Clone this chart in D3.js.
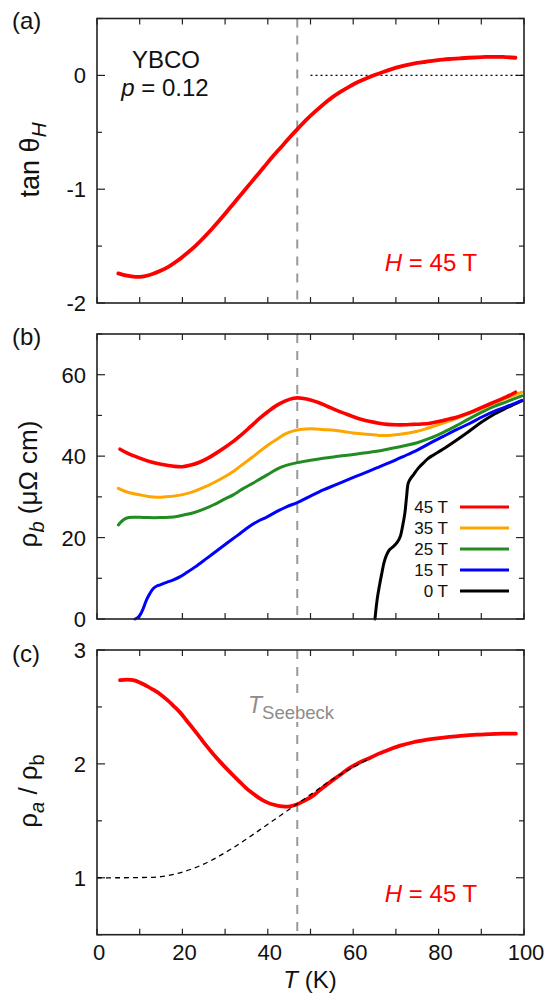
<!DOCTYPE html>
<html><head><meta charset="utf-8">
<script src="https://cdn.jsdelivr.net/npm/d3@7"></script>
<style>
body{margin:0;background:#fff}
svg{display:block}
text{font-family:"Liberation Sans",Arial,Helvetica,sans-serif;fill:#111}
</style>
</head><body>
<svg id="chart" width="548" height="994"></svg>
<script>
// ---------- data ----------
const xTickLabels = [0, 20, 40, 60, 80, 100];
const tSeebeck = 46.9;

// (a) tan theta_H at 45 T
const tempA = [5,7,9,11,13,15,17,19,21,23,25,27,29,31,33,35,37,39,41,43,45,47,49,51,53,55,57,59,61,63,65,67,69,71,73,75,77,79,81,83,85,87,89,91,93,95,98];
const tanThetaH = [-1.74,-1.76,-1.77,-1.765,-1.745,-1.715,-1.675,-1.625,-1.565,-1.50,-1.425,-1.345,-1.26,-1.17,-1.08,-0.99,-0.90,-0.81,-0.72,-0.635,-0.55,-0.47,-0.39,-0.32,-0.255,-0.195,-0.145,-0.1,-0.06,-0.027,0.003,0.03,0.055,0.077,0.095,0.11,0.12,0.13,0.139,0.145,0.15,0.155,0.159,0.162,0.163,0.162,0.155];
const tickA = [-2, -1, 0];

// (b) rho_b for several fields
const fieldLabels = ["45 T", "35 T", "25 T", "15 T", "0 T"];
const fieldColors = ["#ff0000", "#ffa500", "#228b22", "#0000ff", "#000000"];
const temp45 = [5.4,7,10,12.5,15,18,20,22,24,26,28,30,32,34,36,38,40,42,44,46,47,48,50,52,54,56,58,60,62,64,66,68,70,72,74,76,78,80,82,84,86,88,90,92,94,96,98];
const rho45 = [41.7,40.8,39.5,38.6,38.0,37.5,37.4,37.8,38.5,39.5,40.8,42.2,43.7,45.4,47.3,49.2,50.9,52.4,53.5,54.2,54.3,54.2,53.8,53.1,52.2,51.3,50.5,49.7,49.0,48.5,48.1,47.8,47.7,47.7,47.8,47.9,48.1,48.5,49.0,49.5,50.2,51.0,51.9,52.8,53.7,54.6,55.7];
const temp35 = [5,7,10,12,14,16,18.7,21,22.6,25,27.2,30,32,34,36.6,38,40,42.5,44,46,48,50,52,54,56,58,60,62,64,66,68.6,71,73,75,77,79,81,83,85,87.4,90,92,94,96,98,99.5];
const rho35 = [32.1,31.2,30.5,30.1,29.9,30.0,30.3,30.8,31.3,32.3,33.4,35.0,36.3,37.9,39.9,41.1,42.7,44.4,45.4,46.2,46.6,46.7,46.6,46.5,46.3,46.0,45.7,45.5,45.3,45.1,45.1,45.4,45.7,46.1,46.7,47.4,48.1,48.8,49.6,50.6,51.7,52.6,53.5,54.3,55.1,55.7];
const temp25 = [5,6,7,8.5,10,12,14.8,17,18.7,20.5,22.6,25,27.2,30,31.9,34,36.6,38.5,40.5,42.5,44.5,46.9,50,53,56,59.2,62,65.5,68,71.7,75,78,81,84.2,87,90.5,93,96,99.5];
const rho25 = [23.1,24.2,24.8,25.0,25.0,24.9,24.9,25.0,25.2,25.6,26.1,27.0,28.0,29.5,30.5,31.9,33.4,34.6,35.8,37.0,37.8,38.4,39.0,39.5,39.9,40.3,40.7,41.2,41.7,42.5,43.3,44.4,45.8,47.5,49.1,51.0,52.2,53.4,54.8];
const temp15 = [8.9,9.6,10.1,10.8,11.6,12.4,13.2,14,14.8,16.3,17.9,19.5,21,23,25.7,28,30.4,33,35.1,37.5,39.7,42.5,44.5,46.9,50,53,56,59.2,62,65.5,68.5,71.7,75,78,81,84.2,87,90.5,93,96,99.5];
const rho15 = [0,0.4,1.0,2.5,4.7,6.3,7.5,8.1,8.4,9.0,9.6,10.4,11.4,12.8,14.9,16.7,18.6,20.6,22.3,23.9,25.0,26.6,27.6,28.6,30.2,31.7,33.0,34.4,35.6,37.1,38.4,39.9,41.5,43.2,44.8,46.5,47.9,49.8,51.0,52.2,53.7];
const temp0 = [65.1,65.6,66.2,66.7,67.2,67.8,68.5,69.4,70.3,71,71.6,72.1,72.5,72.9,73.5,74.1,75.2,76.4,77.5,78.8,81,84,87,90,93,96,99.5];
const rho0 = [0,4.7,8.5,11.2,13.8,15.7,17.0,17.8,18.8,20.2,23.0,26.0,30.0,33.4,34.6,35.4,37.0,38.3,39.4,40.3,41.7,43.8,46.0,48.3,50.3,51.9,53.6];
const tickB = [0, 20, 40, 60];

// (c) rho_a / rho_b at 45 T, and extrapolated background (dashed)
const tempC = [5.4,7,8.5,10,11.6,13,14.8,16.5,17.9,19.5,21,22.5,24.1,25.6,27.2,28.8,30.4,32,33.5,35,36.6,38.2,39.7,41,42.5,44,45.5,46.9,48.5,50.7,52.5,54.6,57,59.2,61.5,63.9,66,68.6,71,74.1,77,79.6,82.5,85.8,89,92,95,98.1];
const ratioAB = [2.735,2.74,2.735,2.715,2.685,2.655,2.612,2.56,2.51,2.45,2.379,2.31,2.233,2.16,2.087,2.02,1.956,1.895,1.84,1.785,1.737,1.695,1.664,1.645,1.632,1.625,1.63,1.645,1.675,1.723,1.78,1.84,1.905,1.965,2.012,2.052,2.09,2.128,2.16,2.19,2.21,2.224,2.237,2.248,2.256,2.262,2.265,2.265];
const tempFit = [0,5,10,15,20,25,30,35,40,45,50,55,60,64];
const ratioFit = [1.0,1.0,1.002,1.01,1.05,1.12,1.22,1.34,1.47,1.60,1.73,1.86,1.97,2.05];
const tickC = [1, 2, 3];

// ---------- drawing ----------
const svg = d3.select("#chart");
const x = d3.scaleLinear().domain([0, 100]).range([97, 524]);

const panels = [
  {key:"a", y: d3.scaleLinear().domain([-2, 0.5]).range([303, 18.5]), ticks: tickA, minor: 0.5, label:"(a)", labelY: 29},
  {key:"b", y: d3.scaleLinear().domain([0, 70]).range([619, 334]), ticks: tickB, minor: 10, label:"(b)", labelY: 345},
  {key:"c", y: d3.scaleLinear().domain([0.5, 3]).range([934.7, 650]), ticks: tickC, minor: 0.5, label:"(c)", labelY: 662}
];

function frame(p) {
  const y = p.y;
  const [y0, y1] = y.domain();
  const top = y.range()[1], bot = y.range()[0];
  const g = svg.append("g");
  g.append("line").attr("x1", x(tSeebeck)).attr("x2", x(tSeebeck))
    .attr("y1", top).attr("y2", bot)
    .attr("stroke", "#999").attr("stroke-width", 2).attr("stroke-dasharray", "9,8");
  const xt = d3.range(0, 101, 10);
  g.selectAll(null).data(xt).enter().append("line")
    .attr("x1", d => x(d)).attr("x2", d => x(d)).attr("y1", bot).attr("y2", bot - 6)
    .attr("stroke", "#222").attr("stroke-width", 1.2);
  g.selectAll(null).data(xt).enter().append("line")
    .attr("x1", d => x(d)).attr("x2", d => x(d)).attr("y1", top).attr("y2", top + 6)
    .attr("stroke", "#222").attr("stroke-width", 1.2);
  const all = d3.range(y0, y1 + 1e-9, p.minor).map(v => +v.toFixed(4));
  const isMajor = v => p.ticks.some(t => Math.abs(t - v) < 1e-6);
  g.selectAll(null).data(all).enter().append("line")
    .attr("x1", 97).attr("x2", d => 97 + (isMajor(d) ? 8 : 5))
    .attr("y1", d => y(d)).attr("y2", d => y(d)).attr("stroke", "#222").attr("stroke-width", 1.2);
  g.selectAll(null).data(all).enter().append("line")
    .attr("x1", 524).attr("x2", d => 524 - (isMajor(d) ? 8 : 5))
    .attr("y1", d => y(d)).attr("y2", d => y(d)).attr("stroke", "#222").attr("stroke-width", 1.2);
  g.selectAll(null).data(p.ticks).enter().append("text")
    .attr("x", 86).attr("y", d => y(d) + 8).attr("text-anchor", "end")
    .attr("font-size", 22).text(d => d);
  svg.append("text").attr("x", 12).attr("y", p.labelY).attr("font-size", 24).text(p.label);
  return g;
}

function border(p) {
  const top = p.y.range()[1], bot = p.y.range()[0];
  svg.append("rect").attr("x", 97).attr("y", top).attr("width", 524 - 97).attr("height", bot - top)
    .attr("fill", "none").attr("stroke", "#222").attr("stroke-width", 1.6);
}

function curve(ts, vs, y, color, width, dash) {
  const pts = ts.map((t, i) => [t, vs[i]]);
  const line = d3.line().x(d => x(d[0])).y(d => y(d[1])).curve(d3.curveCatmullRom.alpha(0.5));
  const path = svg.append("path").datum(pts).attr("d", line)
    .attr("fill", "none").attr("stroke", color).attr("stroke-width", width)
    .attr("stroke-linejoin", "round").attr("stroke-linecap", "round");
  if (dash) path.attr("stroke-dasharray", dash).attr("stroke-linecap", "butt");
  return path;
}

function fieldText(xc, yb) {
  const t = svg.append("text").attr("x", xc).attr("y", yb).attr("text-anchor", "middle")
    .attr("font-size", 24).style("fill", "#ff0000");
  t.append("tspan").attr("font-style", "italic").text("H");
  t.append("tspan").text(" = 45 T");
}

// ---- panel (a)
const pa = panels[0];
frame(pa);
svg.append("line").attr("x1", x(50)).attr("x2", x(100)).attr("y1", pa.y(0)).attr("y2", pa.y(0))
  .attr("stroke", "#000").attr("stroke-width", 1.3).attr("stroke-dasharray", "2,3");
curve(tempA, tanThetaH, pa.y, "#ff0000", 3.8);
border(pa);
svg.append("text").attr("x", 166).attr("y", 68).attr("text-anchor", "middle").attr("font-size", 24).text("YBCO");
const pt = svg.append("text").attr("x", 165).attr("y", 96).attr("text-anchor", "middle").attr("font-size", 24);
pt.append("tspan").attr("font-style", "italic").text("p");
pt.append("tspan").text(" = 0.12");
fieldText(431, 271);
const ya = svg.append("text").attr("transform", "translate(39,160) rotate(-90)").attr("text-anchor", "middle").attr("font-size", 27);
ya.append("tspan").text("tan θ");
ya.append("tspan").attr("font-style", "italic").attr("font-size", 21).attr("dy", 7).text("H");

// ---- panel (b)
const pb = panels[1];
frame(pb);
const seriesB = [[temp0, rho0, 4], [temp15, rho15, 3], [temp25, rho25, 2], [temp35, rho35, 1], [temp45, rho45, 0]];
seriesB.forEach(s => curve(s[0], s[1], pb.y, fieldColors[s[2]], s[2] === 0 ? 3.6 : 3, undefined));
border(pb);
const lg = svg.append("g");
fieldLabels.forEach((lab, i) => {
  const cy = 507 + i * 21;
  lg.append("text").attr("x", 448).attr("y", cy + 6).attr("text-anchor", "end").attr("font-size", 17).text(lab);
  lg.append("line").attr("x1", 460).attr("x2", 509).attr("y1", cy).attr("y2", cy)
    .attr("stroke", fieldColors[i]).attr("stroke-width", 3);
});
const yb = svg.append("text").attr("transform", "translate(37,484) rotate(-90)").attr("text-anchor", "middle").attr("font-size", 26);
yb.append("tspan").text("ρ");
yb.append("tspan").attr("font-style", "italic").attr("font-size", 20).attr("dy", 7).text("b");
yb.append("tspan").attr("dy", -7).text(" (μΩ cm)");

// ---- panel (c)
const pc = panels[2];
frame(pc);
svg.append("rect").attr("x", 262).attr("y", 699).attr("width", 76).attr("height", 23).attr("fill", "#fff");
const ts = svg.append("text").attr("x", 248).attr("y", 713).attr("font-size", 23).style("fill", "#8c8c8c");
ts.append("tspan").attr("font-style", "italic").text("T");
ts.append("tspan").attr("font-size", 18.5).attr("dy", 6).text("Seebeck");
curve(tempC, ratioAB, pc.y, "#ff0000", 3.8);
curve(tempFit, ratioFit, pc.y, "#000", 1.3, "5,4");
border(pc);
fieldText(431, 902);
const yc = svg.append("text").attr("transform", "translate(37,791) rotate(-90)").attr("text-anchor", "middle").attr("font-size", 26);
yc.append("tspan").text("ρ");
yc.append("tspan").attr("font-style", "italic").attr("font-size", 20).attr("dy", 7).text("a");
yc.append("tspan").attr("dy", -7).text(" / ρ");
yc.append("tspan").attr("font-size", 20).attr("dy", 7).text("b");

// x tick labels and title
svg.selectAll(null).data(xTickLabels).enter().append("text")
  .attr("x", d => x(d) + 2).attr("y", 960).attr("text-anchor", "middle").attr("font-size", 22).text(d => d);
const xt = svg.append("text").attr("x", 310).attr("y", 988).attr("text-anchor", "middle").attr("font-size", 24);
xt.append("tspan").attr("font-style", "italic").text("T");
xt.append("tspan").text(" (K)");
</script>
</body></html>
